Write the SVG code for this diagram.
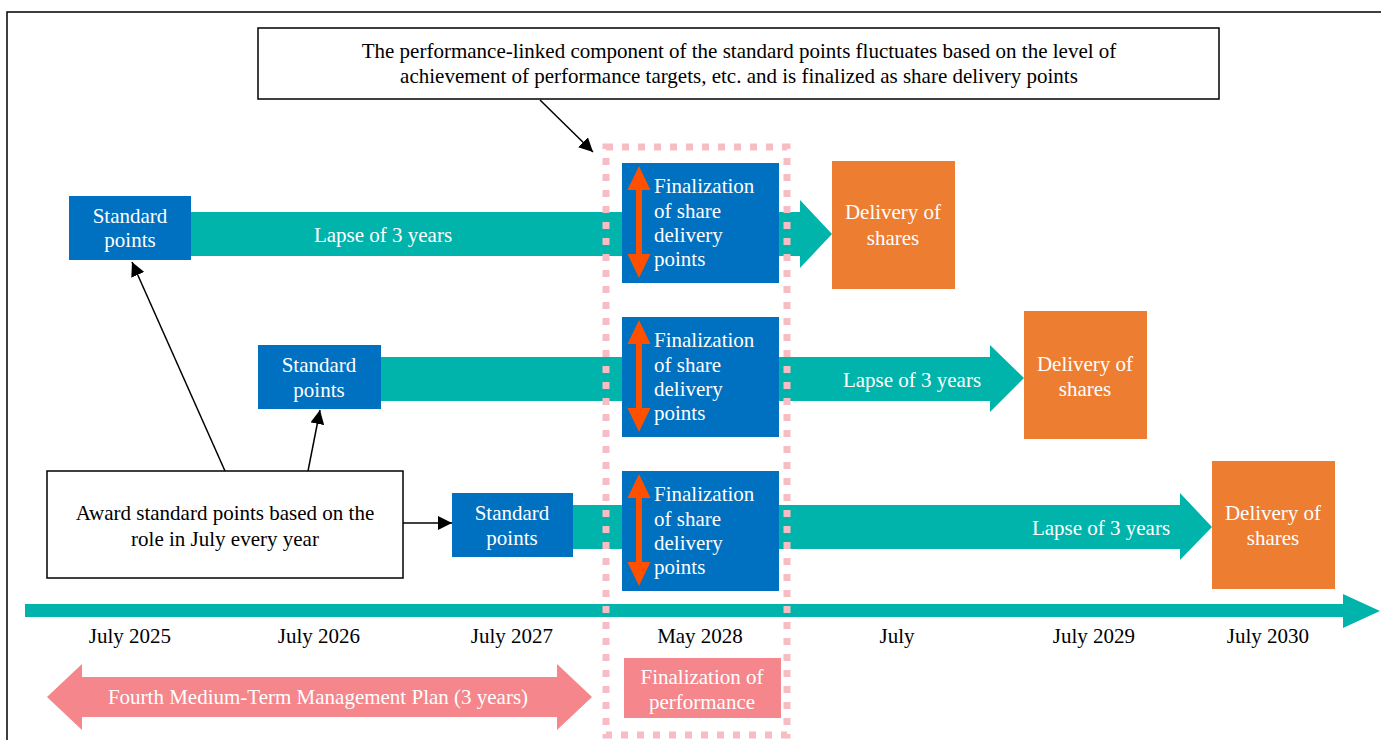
<svg xmlns="http://www.w3.org/2000/svg" width="1381" height="740" viewBox="0 0 1381 740">
<defs>
<style>
text{font-family:"Liberation Serif","Times New Roman",serif;font-size:21px;text-anchor:middle}
.w{fill:#ffffff}
.k{fill:#000000}
.blue{fill:#0070c0}
.org{fill:#ed7d31}
.teal{fill:#00b4ac}
.pink{fill:#f4868c}
.red{fill:#ff5000}
.box{fill:#ffffff;stroke:#000000;stroke-width:1.5}
.ln{stroke:#000000;stroke-width:1.5;fill:none}
.lt{text-anchor:start}
</style>
<marker id="ah" viewBox="0 0 10 10" refX="10" refY="5" markerWidth="10" markerHeight="10" markerUnits="userSpaceOnUse" orient="auto">
<path d="M0,0 L10,5 L0,10 Z" fill="#000"/>
</marker>
<marker id="ahb" viewBox="0 0 10 10" refX="10" refY="5" markerWidth="14" markerHeight="14" markerUnits="userSpaceOnUse" orient="auto">
<path d="M0,0 L10,5 L0,10 Z" fill="#000"/>
</marker>
</defs>
<rect width="1381" height="740" fill="#ffffff"/>
<path d="M7,740 V12 H1381" class="ln"/>

<g id="bands">
<polygon class="teal" points="191,212 800,212 800,200 832,234 800,268 800,256 191,256"/>
<polygon class="teal" points="380,357 990,357 990,345 1024,378 990,412 990,401 380,401"/>
<polygon class="teal" points="573,505 1180,505 1180,493 1212,527 1180,560 1180,549 573,549"/>
<polygon class="teal" points="25,604 1343,604 1343,594 1380,611 1343,628 1343,617 25,617"/>
<text class="w" x="383" y="242">Lapse of 3 years</text>
<text class="w" x="912" y="387">Lapse of 3 years</text>
<text class="w" x="1101" y="535">Lapse of 3 years</text>
</g>

<g id="finalization-window">
<rect x="606" y="147" width="181" height="588" fill="none" stroke="#f8bcc4" stroke-width="7" stroke-dasharray="7 9"/>
</g>

<g id="callout">
<rect class="box" x="258" y="28" width="961" height="71"/>
<text class="k" x="739" y="58">The performance-linked component of the standard points fluctuates based on the level of</text>
<text class="k" x="739" y="83">achievement of performance targets, etc. and is finalized as share delivery points</text>
</g>

<g id="award">
<rect class="box" x="47" y="471" width="356" height="107"/>
<text class="k" x="225" y="520">Award standard points based on the</text>
<text class="k" x="225" y="546">role in July every year</text>
</g>

<g id="sp1">
<rect class="blue" x="69" y="196" width="122" height="64"/>
<text class="w" x="130" y="223">Standard</text>
<text class="w" x="130" y="247">points</text>
</g>
<g id="sp2">
<rect class="blue" x="258" y="345" width="123" height="64"/>
<text class="w" x="319" y="372">Standard</text>
<text class="w" x="319" y="397">points</text>
</g>
<g id="sp3">
<rect class="blue" x="452" y="493" width="121" height="64"/>
<text class="w" x="512" y="520">Standard</text>
<text class="w" x="512" y="545">points</text>
</g>

<g id="fin1">
<rect class="blue" x="622" y="163" width="157" height="120"/>
<polygon class="red" points="639,166 650.5,190 642,190 642,254 650.5,254 639,278 627.5,254 636,254 636,190 627.5,190"/>
<text class="w lt" x="654" y="193">Finalization</text>
<text class="w lt" x="654" y="218">of share</text>
<text class="w lt" x="654" y="242">delivery</text>
<text class="w lt" x="654" y="266">points</text>
</g>
<g id="fin2">
<rect class="blue" x="622" y="317" width="157" height="120"/>
<polygon class="red" points="639,320 650.5,344 642,344 642,408 650.5,408 639,432 627.5,408 636,408 636,344 627.5,344"/>
<text class="w lt" x="654" y="347">Finalization</text>
<text class="w lt" x="654" y="372">of share</text>
<text class="w lt" x="654" y="396">delivery</text>
<text class="w lt" x="654" y="420">points</text>
</g>
<g id="fin3">
<rect class="blue" x="622" y="471" width="157" height="120"/>
<polygon class="red" points="639,474 650.5,498 642,498 642,562 650.5,562 639,586 627.5,562 636,562 636,498 627.5,498"/>
<text class="w lt" x="654" y="501">Finalization</text>
<text class="w lt" x="654" y="526">of share</text>
<text class="w lt" x="654" y="550">delivery</text>
<text class="w lt" x="654" y="574">points</text>
</g>

<g id="del1">
<rect class="org" x="832" y="161" width="123" height="128"/>
<text class="w" x="893" y="219">Delivery of</text>
<text class="w" x="893" y="245">shares</text>
</g>
<g id="del2">
<rect class="org" x="1024" y="311" width="123" height="128"/>
<text class="w" x="1085" y="371">Delivery of</text>
<text class="w" x="1085" y="396">shares</text>
</g>
<g id="del3">
<rect class="org" x="1212" y="461" width="123" height="128"/>
<text class="w" x="1273" y="520">Delivery of</text>
<text class="w" x="1273" y="545">shares</text>
</g>

<g id="timeline-labels">
<text class="k" x="130" y="643">July 2025</text>
<text class="k" x="319" y="643">July 2026</text>
<text class="k" x="512" y="643">July 2027</text>
<text class="k" x="700" y="643">May 2028</text>
<text class="k" x="897" y="643">July</text>
<text class="k" x="1094" y="643">July 2029</text>
<text class="k" x="1268" y="643">July 2030</text>
</g>

<g id="plan">
<polygon class="pink" points="47,697 82,664 82,677 557,677 557,664 592,697 557,730 557,717 82,717 82,730"/>
<text class="w" x="318" y="704">Fourth Medium-Term Management Plan (3 years)</text>
</g>

<g id="perf">
<rect class="pink" x="624" y="658" width="157" height="60"/>
<text class="w" x="702" y="684">Finalization of</text>
<text class="w" x="702" y="709">performance</text>
</g>

<g id="connectors">
<line class="ln" x1="540" y1="100" x2="593" y2="152" marker-end="url(#ahb)"/>
<line class="ln" x1="225" y1="471" x2="132" y2="262" marker-end="url(#ahb)"/>
<line class="ln" x1="308" y1="471" x2="320" y2="410" marker-end="url(#ahb)"/>
<line class="ln" x1="403" y1="523" x2="452" y2="523" marker-end="url(#ahb)"/>
</g>
</svg>
